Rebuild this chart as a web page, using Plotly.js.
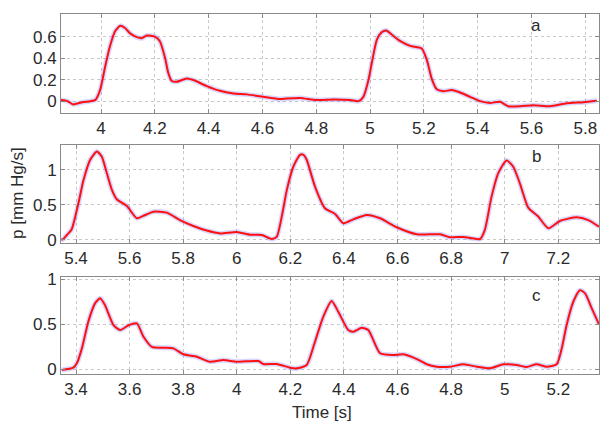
<!DOCTYPE html>
<html><head><meta charset="utf-8">
<script src="https://cdn.plot.ly/plotly-3.0.1.min.js"></script>
<style>html,body{margin:0;padding:0;background:#fff}#g{width:601px;height:421px}</style>
</head><body><div id="g"></div>
<script>
// Panel a
const tA = [3.851,3.875,3.896,3.93,3.96,3.978,3.996,4.015,4.033,4.052,4.071,4.089,4.108,4.133,4.151,4.17,4.2,4.219,4.238,4.25,4.263,4.281,4.319,4.343,4.393,4.442,4.492,4.542,4.603,4.665,4.69,4.74,4.80,4.864,4.926,4.957,4.975,4.994,5.006,5.025,5.043,5.06,5.08,5.111,5.149,5.192,5.211,5.229,5.248,5.272,5.304,5.335,5.372,5.409,5.446,5.483,5.514,5.558,5.607,5.669,5.731,5.793,5.843];
const pA = [0.01,0.0,-0.03,-0.01,0.0,0.01,0.1,0.32,0.51,0.65,0.70,0.68,0.63,0.595,0.585,0.61,0.60,0.555,0.40,0.26,0.187,0.18,0.21,0.196,0.14,0.096,0.072,0.063,0.04,0.019,0.025,0.03,0.01,0.015,0.01,0.0,0.04,0.196,0.35,0.57,0.64,0.657,0.62,0.56,0.514,0.49,0.383,0.21,0.11,0.093,0.103,0.08,0.04,0.0,-0.016,-0.006,-0.047,-0.047,-0.037,-0.047,-0.02,-0.01,0.003];
// Panel b
const tB = [5.345,5.353,5.366,5.384,5.409,5.428,5.453,5.478,5.496,5.515,5.534,5.552,5.59,5.627,5.651,5.689,5.739,5.788,5.838,5.888,5.938,6.0,6.05,6.093,6.13,6.149,6.168,6.187,6.211,6.236,6.249,6.261,6.292,6.329,6.367,6.398,6.435,6.485,6.535,6.597,6.672,6.759,6.796,6.846,6.908,6.926,6.951,6.976,7.007,7.032,7.057,7.088,7.125,7.163,7.206,7.269,7.312,7.352];
const pB = [0.0,0.01,0.067,0.15,0.52,0.85,1.14,1.257,1.186,0.95,0.71,0.577,0.48,0.305,0.34,0.40,0.386,0.28,0.196,0.13,0.09,0.11,0.07,0.067,0.01,0.04,0.33,0.71,1.04,1.21,1.21,1.14,0.757,0.449,0.367,0.234,0.29,0.353,0.305,0.177,0.077,0.077,0.034,0.04,0.01,0.14,0.614,0.95,1.13,1.04,0.80,0.457,0.33,0.163,0.267,0.32,0.28,0.186];
// Panel c
const tC = [3.347,3.39,3.403,3.422,3.446,3.471,3.49,3.508,3.54,3.565,3.596,3.627,3.652,3.683,3.726,3.763,3.801,3.851,3.9,3.95,4.0,4.081,4.099,4.149,4.199,4.224,4.261,4.292,4.323,4.354,4.379,4.416,4.435,4.466,4.491,4.535,4.584,4.622,4.672,4.709,4.746,4.796,4.846,4.896,4.945,4.995,5.045,5.082,5.119,5.157,5.194,5.213,5.231,5.256,5.281,5.3,5.325,5.352];
const pC = [-0.008,0.018,0.067,0.233,0.53,0.733,0.789,0.714,0.49,0.437,0.49,0.51,0.362,0.25,0.24,0.233,0.167,0.14,0.084,0.103,0.084,0.092,0.059,0.059,0.018,0.011,0.048,0.307,0.585,0.759,0.64,0.437,0.418,0.462,0.437,0.178,0.159,0.167,0.114,0.056,0.029,0.029,0.056,0.029,0.011,0.056,0.048,0.026,0.056,0.029,0.056,0.233,0.49,0.751,0.88,0.844,0.678,0.5];

const xTicksA = [3.8,4,4.2,4.4,4.6,4.8,5,5.2,5.4,5.6,5.8];
const xLabelsA = ['3.8','4','4.2','4.4','4.6','4.8','5','5.2','5.4','5.6','5.8'];
const xTicksB = [5.4,5.6,5.8,6,6.2,6.4,6.6,6.8,7,7.2];
const xLabelsB = ['5.4','5.6','5.8','6','6.2','6.4','6.6','6.8','7','7.2'];
const xTicksC = [3.4,3.6,3.8,4,4.2,4.4,4.6,4.8,5,5.2];
const xLabelsC = ['3.4','3.6','3.8','4','4.2','4.4','4.6','4.8','5','5.2'];
const yTicksA = [0,0.2,0.4,0.6];
const yLabelsA = ['0','0.2','0.4','0.6'];
const yTicksBC = [0,0.5,1];
const yLabelsBC = ['0','0.5','1'];

function pair(t,p,xa,ya){
  return [
    {x:t,y:p,xaxis:xa,yaxis:ya,mode:'lines',line:{color:'rgba(120,120,255,0.3)',width:5,shape:'spline',smoothing:0.6},hoverinfo:'skip',showlegend:false},
    {x:t,y:p,xaxis:xa,yaxis:ya,mode:'lines',line:{color:'#ff1010',width:2,shape:'spline',smoothing:0.6},showlegend:false}
  ];
}
const data = [].concat(pair(tA,pA,'x','y'),pair(tB,pB,'x2','y2'),pair(tC,pC,'x3','y3'));

const font = {family:'Liberation Sans, Arial, sans-serif',size:17,color:'#2a2a2a'};
function xax(range,tv,tt,anchor){return {range:range,tickvals:tv,ticktext:tt,anchor:anchor,showline:true,mirror:'ticks',linecolor:'#8a8a8a',linewidth:1,ticks:'inside',ticklen:4,tickcolor:'#8a8a8a',showgrid:true,gridcolor:'#c8c8c8',griddash:'dot',gridwidth:1,zeroline:false,tickfont:font};}
function yax(range,tv,tt,dom,anchor){return {range:range,tickvals:tv,ticktext:tt,domain:dom,anchor:anchor,showline:true,mirror:'ticks',linecolor:'#8a8a8a',linewidth:1,ticks:'inside',ticklen:4,tickcolor:'#8a8a8a',showgrid:true,gridcolor:'#c8c8c8',griddash:'dot',gridwidth:1,zeroline:false,tickfont:font};}

const lblFont = {family:font.family,size:17,color:'#2a2a2a'};
const layout = {
  width:601,height:421,
  margin:{l:61,r:2,t:14,b:47},
  paper_bgcolor:'#fff',plot_bgcolor:'#fff',
  font:font,
  xaxis:xax([3.851,5.851],xTicksA,xLabelsA,'y'),
  yaxis:yax([-0.11,0.81],yTicksA,yLabelsA,[0.725,1.0],'x'),
  xaxis2:xax([5.344,7.352],xTicksB,xLabelsB,'y2'),
  yaxis2:yax([-0.047,1.35],yTicksBC,yLabelsBC,[0.3639,0.6361],'x2'),
  xaxis3:xax([3.344,5.352],xTicksC,xLabelsC,'y3'),
  yaxis3:yax([-0.052,1.026],yTicksBC,yLabelsBC,[0,0.2694],'x3'),
  annotations:[
    {text:'a',xref:'paper',yref:'paper',x:0.883,y:0.967,xanchor:'center',yanchor:'middle',showarrow:false,font:lblFont},
    {text:'b',xref:'paper',yref:'paper',x:0.883,y:0.603,xanchor:'center',yanchor:'middle',showarrow:false,font:lblFont},
    {text:'c',xref:'paper',yref:'paper',x:0.883,y:0.219,xanchor:'center',yanchor:'middle',showarrow:false,font:lblFont},
    {text:'p [mm Hg/s]',xref:'paper',yref:'paper',x:-0.08,y:0.503,xanchor:'center',yanchor:'middle',textangle:-90,showarrow:false,font:lblFont},
    {text:'Time [s]',xref:'paper',yref:'paper',x:0.485,y:-0.106,xanchor:'center',yanchor:'middle',showarrow:false,font:lblFont}
  ]
};
Plotly.newPlot('g',data,layout,{staticPlot:true,displayModeBar:false});
</script></body></html>
